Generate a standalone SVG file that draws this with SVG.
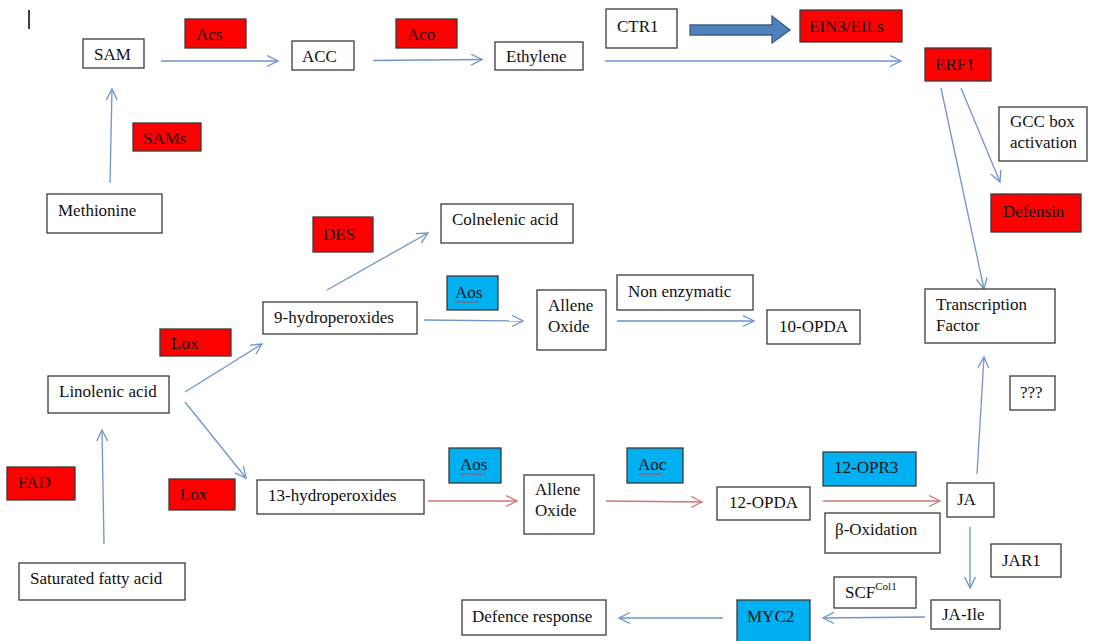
<svg xmlns="http://www.w3.org/2000/svg" width="1094" height="641" viewBox="0 0 1094 641">
<style>
text{font-family:"Liberation Serif","Times New Roman",serif;font-size:17px;fill:#111}
.w{fill:#fff;stroke:#3a3a3a;stroke-width:1.3}
.r{fill:#ff0000;stroke:#3a3a3a;stroke-width:1.3}
.b{fill:#00b0f0;stroke:#3a3a3a;stroke-width:1.3}
.cb{fill:none;stroke:#6e95cd;stroke-width:1.3;marker-end:url(#ab)}
.cr{fill:none;stroke:#d07674;stroke-width:1.3;marker-end:url(#ar)}
.sq{fill:none;stroke:#e03030;stroke-width:0.8}
</style>
<defs>
<marker id="ab" markerUnits="userSpaceOnUse" markerWidth="14" markerHeight="14" refX="11" refY="6" orient="auto"><path d="M0,0.5 L11,6 L0,11.5" fill="none" stroke="#6e95cd" stroke-width="1.3"/></marker>
<marker id="ar" markerUnits="userSpaceOnUse" markerWidth="14" markerHeight="14" refX="11" refY="6" orient="auto"><path d="M0,0.5 L11,6 L0,11.5" fill="none" stroke="#d07674" stroke-width="1.3"/></marker>
</defs>
<rect width="1094" height="641" fill="#fff"/>
<line x1="29" y1="10" x2="29" y2="29" stroke="#000" stroke-width="1.5"/>

<g id="connectors">
<line class="cb" x1="161" y1="61" x2="278" y2="61"/>
<line class="cb" x1="373" y1="60.5" x2="482" y2="59.5"/>
<line class="cb" x1="605" y1="61" x2="901" y2="61"/>
<line class="cb" x1="110" y1="183" x2="112" y2="89"/>
<line class="cb" x1="941" y1="88" x2="984" y2="289"/>
<line class="cb" x1="961" y1="88" x2="1000" y2="182"/>
<line class="cb" x1="327" y1="290" x2="428" y2="233"/>
<line class="cb" x1="424" y1="320" x2="523" y2="321"/>
<line class="cb" x1="185" y1="392" x2="262" y2="344"/>
<line class="cb" x1="185" y1="402" x2="246" y2="478"/>
<line class="cb" x1="617" y1="321" x2="754" y2="321"/>
<line class="cb" x1="104" y1="544" x2="102" y2="430"/>
<line class="cb" x1="977" y1="474" x2="984" y2="357"/>
<line class="cr" x1="428" y1="501" x2="517" y2="501"/>
<line class="cr" x1="606" y1="501" x2="702" y2="502"/>
<line class="cr" x1="823" y1="501" x2="940" y2="501"/>
<line class="cb" x1="970" y1="527" x2="970" y2="588"/>
<line class="cb" x1="925" y1="617" x2="823" y2="618"/>
<line class="cb" x1="723" y1="618" x2="619" y2="618"/>
<polygon points="690,25 772,25 772,16 790,30 772,43 772,35 690,35" fill="#4f81bd" stroke="#385d8a" stroke-width="1.3"/>
</g>

<g id="sam"><rect class="w" x="83" y="39" width="61" height="29"/><text x="94" y="60">SAM</text></g>
<g id="acs"><rect class="r" x="185" y="19" width="61" height="29"/><text x="196" y="40">Acs</text></g>
<g id="acc"><rect class="w" x="292" y="41" width="62" height="29"/><text x="302" y="62">ACC</text></g>
<g id="aco"><rect class="r" x="396" y="19" width="61" height="29"/><text x="407" y="40">Aco</text></g>
<g id="ethylene"><rect class="w" x="495" y="42" width="88" height="28"/><text x="506" y="62">Ethylene</text></g>
<g id="ctr1"><rect class="w" x="606" y="9" width="71" height="39"/><text x="617" y="32">CTR1</text></g>
<g id="ein3"><rect class="r" x="800" y="10" width="102" height="32"/><text x="809" y="32">EIN3/EILs</text></g>
<g id="erf1"><rect class="r" x="925" y="48" width="66" height="33"/><text x="935" y="70">ERF1</text></g>
<g id="sams"><rect class="r" x="133" y="123" width="68" height="28"/><text x="143" y="144">SAMs</text></g>
<g id="methionine"><rect class="w" x="47" y="194" width="115" height="39"/><text x="58" y="216">Methionine</text></g>
<g id="gcc"><rect class="w" x="999" y="107" width="88" height="54"/><text x="1010" y="127">GCC box</text><text x="1010" y="148">activation</text></g>
<g id="defensin"><rect class="r" x="991" y="194" width="90" height="38"/><text x="1003" y="217">Defensin</text></g>
<g id="des"><rect class="r" x="313" y="217" width="60" height="35"/><text x="323" y="240">DES</text></g>
<g id="colnelenic"><rect class="w" x="441" y="204" width="132" height="39"/><text x="452" y="225">Colnelenic acid</text></g>
<g id="aos1"><rect class="b" x="447" y="276" width="51" height="34"/><text x="455" y="298">Aos</text><path class="sq" d="M455,301 l2,2 l2,-2 l2,2 l2,-2 l2,2 l2,-2 l2,2 l2,-2 l2,2 l2,-2 l2,2 l2,-2"/></g>
<g id="hydro9"><rect class="w" x="263" y="302" width="154" height="32"/><text x="274" y="323">9-hydroperoxides</text></g>
<g id="allene1"><rect class="w" x="537" y="290" width="69" height="60"/><text x="548" y="311">Allene</text><text x="548" y="332">Oxide</text></g>
<g id="nonenz"><rect class="w" x="617" y="275" width="136" height="35"/><text x="628" y="297">Non enzymatic</text></g>
<g id="opda10"><rect class="w" x="767" y="310" width="93" height="34"/><text x="779" y="332">10-OPDA</text></g>
<g id="tf"><rect class="w" x="925" y="289" width="130" height="54"/><text x="936" y="310">Transcription</text><text x="936" y="331">Factor</text></g>
<g id="qqq"><rect class="w" x="1010" y="376" width="45" height="34"/><text x="1020" y="398">???</text></g>
<g id="lox1"><rect class="r" x="160" y="329" width="71" height="27"/><text x="171" y="349">Lox</text></g>
<g id="linolenic"><rect class="w" x="48" y="376" width="121" height="37"/><text x="59" y="397">Linolenic acid</text></g>
<g id="fad"><rect class="r" x="7" y="467" width="68" height="33"/><text x="18" y="488">FAD</text></g>
<g id="lox2"><rect class="r" x="169" y="479" width="66" height="31"/><text x="180" y="500">Lox</text></g>
<g id="hydro13"><rect class="w" x="257" y="480" width="167" height="34"/><text x="268" y="501">13-hydroperoxides</text></g>
<g id="saturated"><rect class="w" x="19" y="563" width="166" height="37"/><text x="30" y="584">Saturated fatty acid</text></g>
<g id="aos2"><rect class="b" x="449" y="448" width="52" height="35"/><text x="460" y="470">Aos</text><path class="sq" d="M460,473 l2,2 l2,-2 l2,2 l2,-2 l2,2 l2,-2 l2,2 l2,-2 l2,2 l2,-2 l2,2 l2,-2"/></g>
<g id="allene2"><rect class="w" x="524" y="475" width="70" height="59"/><text x="535" y="495">Allene</text><text x="535" y="516">Oxide</text></g>
<g id="aoc"><rect class="b" x="627" y="448" width="56" height="35"/><text x="638" y="470">Aoc</text><path class="sq" d="M638,473 l2,2 l2,-2 l2,2 l2,-2 l2,2 l2,-2 l2,2 l2,-2 l2,2 l2,-2 l2,2 l2,-2"/></g>
<g id="opda12"><rect class="w" x="717" y="487" width="93" height="33"/><text x="729" y="508">12-OPDA</text></g>
<g id="opr3"><rect class="b" x="823" y="452" width="93" height="34"/><text x="834" y="473">12-OPR3</text></g>
<g id="ja"><rect class="w" x="947" y="483" width="47" height="34"/><text x="957" y="505">JA</text></g>
<g id="boxid"><rect class="w" x="825" y="513" width="115" height="40"/><text x="835" y="535">β-Oxidation</text></g>
<g id="jar1"><rect class="w" x="991" y="544" width="70" height="33"/><text x="1002" y="566">JAR1</text></g>
<g id="scf"><rect class="w" x="834" y="577" width="82" height="31"/><text x="845" y="598">SCF<tspan dy="-8" font-size="11">Col1</tspan></text></g>
<g id="jaile"><rect class="w" x="931" y="600" width="69" height="29"/><text x="942" y="620">JA-Ile</text></g>
<g id="myc2"><rect class="b" x="737" y="600" width="73" height="50"/><text x="747" y="622">MYC2</text></g>
<g id="defence"><rect class="w" x="462" y="600" width="144" height="35"/><text x="472" y="622">Defence response</text></g>
</svg>
